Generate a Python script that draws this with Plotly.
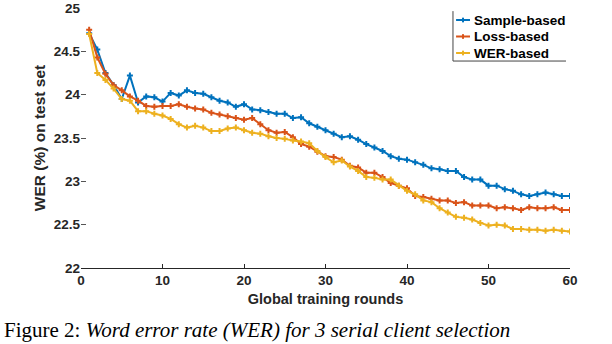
import plotly.graph_objects as go

rounds = list(range(1, 61))

sample_based = [24.71, 24.52, 24.25, 24.11, 23.95, 24.22, 23.91, 23.98, 23.97, 23.92,
                24.02, 23.99, 24.05, 24.02, 24.01, 23.97, 23.93, 23.91, 23.86, 23.89,
                23.83, 23.82, 23.80, 23.78, 23.78, 23.73, 23.74, 23.67, 23.63, 23.59,
                23.55, 23.51, 23.52, 23.48, 23.43, 23.39, 23.35, 23.29, 23.26, 23.25,
                23.22, 23.19, 23.15, 23.14, 23.12, 23.12, 23.05, 23.02, 23.02, 22.95,
                22.95, 22.91, 22.89, 22.85, 22.83, 22.85, 22.87, 22.85, 22.83, 22.83]

loss_based = [24.75, 24.43, 24.24, 24.11, 24.05, 23.98, 23.93, 23.87, 23.86, 23.87,
              23.87, 23.89, 23.86, 23.84, 23.83, 23.79, 23.77, 23.75, 23.73, 23.71,
              23.73, 23.66, 23.59, 23.56, 23.57, 23.51, 23.43, 23.40, 23.34, 23.29,
              23.28, 23.25, 23.18, 23.16, 23.10, 23.10, 23.05, 22.98, 22.95, 22.92,
              22.83, 22.82, 22.80, 22.78, 22.78, 22.75, 22.76, 22.72, 22.72, 22.72,
              22.69, 22.70, 22.69, 22.67, 22.70, 22.69, 22.69, 22.70, 22.67, 22.67]

wer_based = [24.70, 24.25, 24.17, 24.07, 23.95, 23.93, 23.81, 23.81, 23.78, 23.76,
             23.72, 23.66, 23.62, 23.64, 23.62, 23.58, 23.58, 23.61, 23.62, 23.59,
             23.56, 23.55, 23.52, 23.50, 23.49, 23.47, 23.46, 23.44, 23.35, 23.28,
             23.22, 23.24, 23.17, 23.12, 23.05, 23.04, 23.02, 23.02, 22.95, 22.89,
             22.85, 22.78, 22.76, 22.69, 22.64, 22.59, 22.58, 22.56, 22.52, 22.49,
             22.50, 22.49, 22.45, 22.45, 22.44, 22.44, 22.43, 22.44, 22.43, 22.42]

series = [
    ("Sample-based", sample_based, "#0072BD"),
    ("Loss-based", loss_based, "#D95319"),
    ("WER-based", wer_based, "#EDB120"),
]

x_ticks = [0, 10, 20, 30, 40, 50, 60]
y_ticks = [22, 22.5, 23, 23.5, 24, 24.5, 25]

font_name = "Liberation Sans, Arial, sans-serif"
ink = "#262626"

fig = go.Figure()
for name, vals, color in series:
    fig.add_trace(go.Scatter(
        x=rounds, y=vals, name=name, mode="lines+markers",
        line=dict(color=color, width=2),
        marker=dict(symbol="cross", size=5, color=color),
    ))

fig.update_layout(
    width=612, height=344,
    margin=dict(l=81, r=42, t=8, b=76),
    paper_bgcolor="white", plot_bgcolor="white",
    font=dict(family=font_name, color=ink, size=13),
    showlegend=False,
    xaxis=dict(
        range=[0, 60], tickvals=x_ticks, showgrid=False, zeroline=False,
        showline=True, linecolor=ink, linewidth=1, automargin=False,
        ticks="inside", ticklen=4, tickcolor=ink,
        tickfont=dict(size=13.5, weight="bold"),
        title=dict(text="Global training rounds", standoff=6,
                   font=dict(size=14.5, weight="bold")),
    ),
    yaxis=dict(
        range=[22, 25], tickvals=y_ticks, showgrid=False, zeroline=False,
        showline=False, automargin=False,
        ticks="inside", ticklen=5, tickcolor="#555555",
        tickfont=dict(size=13.5, weight="bold"),
        title=dict(text="WER (%) on test set", standoff=4,
                   font=dict(size=15.5, weight="bold")),
    ),
    xaxis2=dict(
        overlaying="x", side="top", anchor="y", matches="x", range=[0, 60],
        tickvals=x_ticks, showticklabels=False, showgrid=False, zeroline=False,
        showline=False, ticks="inside", ticklen=4, tickcolor="#555555",
        automargin=False,
    ),
    yaxis2=dict(
        overlaying="y", side="right", anchor="x", matches="y", range=[22, 25],
        tickvals=y_ticks, showticklabels=False, showgrid=False, zeroline=False,
        showline=False, ticks="inside", ticklen=5, tickcolor="#555555",
        automargin=False,
    ),
)

# legend drawn by hand so it sits tight like the MATLAB one
leg_x0, leg_x1, leg_txt = 0.767, 0.7955, 0.7996
leg_rows = [0.9538, 0.8904, 0.8269]
for (name, vals, color), ly in zip(series, leg_rows):
    fig.add_shape(type="line", xref="paper", yref="paper", x0=leg_x0, x1=leg_x1, y0=ly, y1=ly,
                  line=dict(color=color, width=2))
    xm = (leg_x0 + leg_x1) / 2
    fig.add_shape(type="line", xref="paper", yref="paper", x0=xm, x1=xm, y0=ly - 0.009, y1=ly + 0.009,
                  line=dict(color=color, width=2))
    fig.add_annotation(xref="paper", yref="paper", x=leg_txt, y=ly, xanchor="left", yanchor="middle",
                       showarrow=False, text=name,
                       font=dict(size=13.5, color="black", family=font_name, weight="bold"))

# legend frame (only left and bottom edges show in the original)
fig.add_shape(type="line", xref="paper", yref="paper", x0=0.7607, x1=0.7607, y0=0.796, y1=0.988,
              line=dict(color="#444444", width=1))
fig.add_shape(type="line", xref="paper", yref="paper", x0=0.7607, x1=0.9918, y0=0.796, y1=0.796,
              line=dict(color="#444444", width=1))

# figure caption at the foot of the page
fig.add_annotation(
    xref="paper", yref="paper", x=-0.1616, y=-0.2915, xanchor="left", yanchor="bottom",
    showarrow=False, align="left",
    text="Figure 2: <i>Word error rate (WER) for 3 serial client selection</i>",
    font=dict(family="Liberation Serif, Times New Roman, serif", size=21, color="black"),
)

# drop the default 8px body margin so the figure fills the window exactly
fig.write_html("out.html", config={"displayModeBar": False},
               post_script="document.body.style.margin = '0';")
